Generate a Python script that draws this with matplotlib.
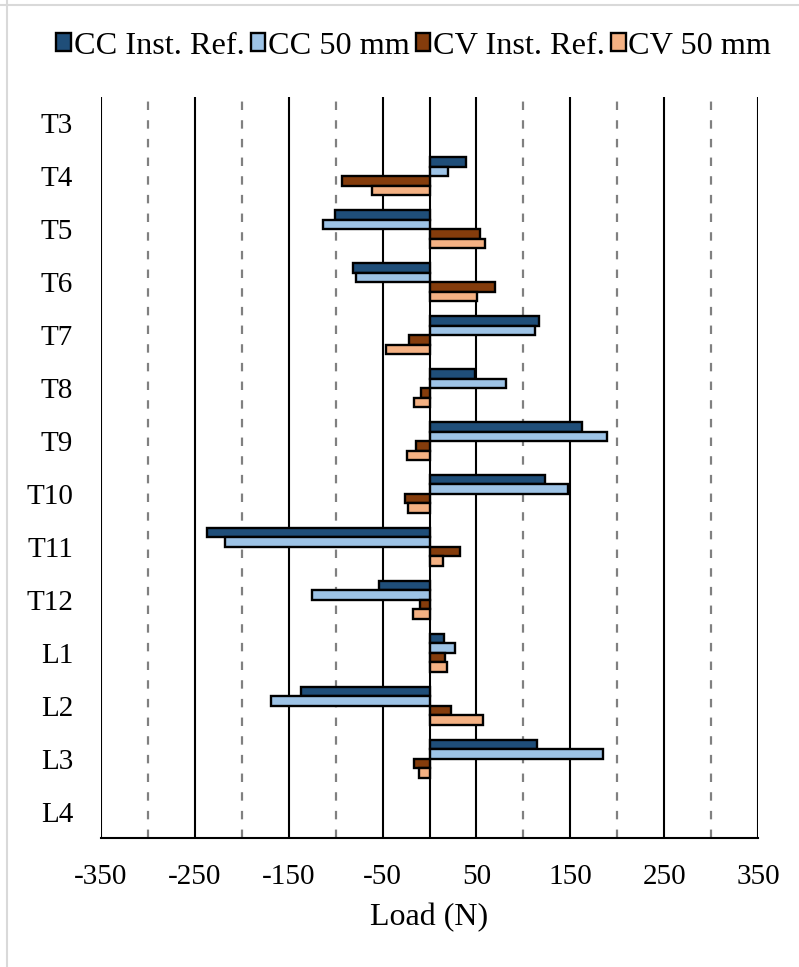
import numpy as np
import matplotlib
matplotlib.use("Agg")
import matplotlib.pyplot as plt
from matplotlib.lines import Line2D

plt.rcParams['font.family'] = ['Liberation Serif', 'DejaVu Serif']

# Segment labels (top to bottom)
segments = ["T3", "T4", "T5", "T6", "T7", "T8", "T9", "T10", "T11", "T12",
            "L1", "L2", "L3", "L4"]

nan = np.nan
# Load (N) per segment for each configuration
cc_inst_ref = [nan, 39, -101, -82, 117, 48, 162, 123, -237, -54, 15, -137, 115, nan]
cc_50mm     = [nan, 20, -113, -78, 112, 81, 189, 148, -218, -125, 27, -169, 185, nan]
cv_inst_ref = [nan, -93, 54, 70, -22, -9, -14, -26, 33, -10, 16, 23, -16, nan]
cv_50mm     = [nan, -61, 59, 51, -46, -17, -24, -23, 14, -18, 19, 57, -11, nan]

series_names = ["CC Inst. Ref.", "CC 50 mm", "CV Inst. Ref.", "CV 50 mm"]
series_values = [cc_inst_ref, cc_50mm, cv_inst_ref, cv_50mm]
series_colors = ["#1F4E79", "#9DC3E6", "#843C0C", "#F4B183"]

major_ticks = [-350, -250, -150, -50, 50, 150, 250, 350]
minor_ticks = [-300, -200, -100, 100, 200, 300]

W, H = 799, 967
fig = plt.figure(figsize=(W / 100, H / 100), dpi=100)
ax = fig.add_axes([101 / W, 1 - 838 / H, (758 - 101) / W, (838 - 97) / H])

y = np.arange(len(segments))
bar_h = 0.18
for i, (name, vals, col) in enumerate(zip(series_names, series_values, series_colors)):
    ax.barh(y + (i - 1.5) * bar_h, vals, height=bar_h, color=col,
            edgecolor="black", linewidth=1.7, label=name, zorder=3)

ax.set_xlim(-350, 350)
ax.set_ylim(len(segments) - 0.5, -0.5)

# Grid: solid at the labelled values, dashed in between
for v in major_ticks:
    ax.axvline(v, color="black", linewidth=1.5, zorder=1)
for v in minor_ticks:
    ax.axvline(v, color="#808080", linewidth=1.6, linestyle=(0, (3.8, 4.6)), zorder=1)
ax.axvline(0, color="black", linewidth=1.5, zorder=2)

ax.set_xticks(major_ticks)
ax.set_xticklabels([str(v) for v in major_ticks])
ax.set_yticks(y)
ax.set_yticklabels(segments)
ax.tick_params(axis="x", length=0, pad=19, labelsize=21)
ax.tick_params(axis="y", length=0, pad=20, labelsize=21)

for side in ["top", "left", "right"]:
    ax.spines[side].set_visible(False)
ax.spines["bottom"].set_linewidth(1.5)
ax.spines["bottom"].set_color("black")

ax.set_xlabel("Load (N)", fontsize=23, labelpad=9)

fig.legend(loc="center", bbox_to_anchor=(0.518, 1 - 46 / H), ncol=4,
           frameon=False, fontsize=23.2, handlelength=0.45, handleheight=0.45,
           handletextpad=0.08, columnspacing=0.2, borderaxespad=0)

# Light chart-area border
fig.add_artist(Line2D([0, 1], [1 - 5 / H, 1 - 5 / H], transform=fig.transFigure,
                      color="#D9D9D9", linewidth=1.5))
fig.add_artist(Line2D([7 / W, 7 / W], [0, 1], transform=fig.transFigure,
                      color="#D9D9D9", linewidth=1.5))

fig.savefig("out.png", dpi=100)
